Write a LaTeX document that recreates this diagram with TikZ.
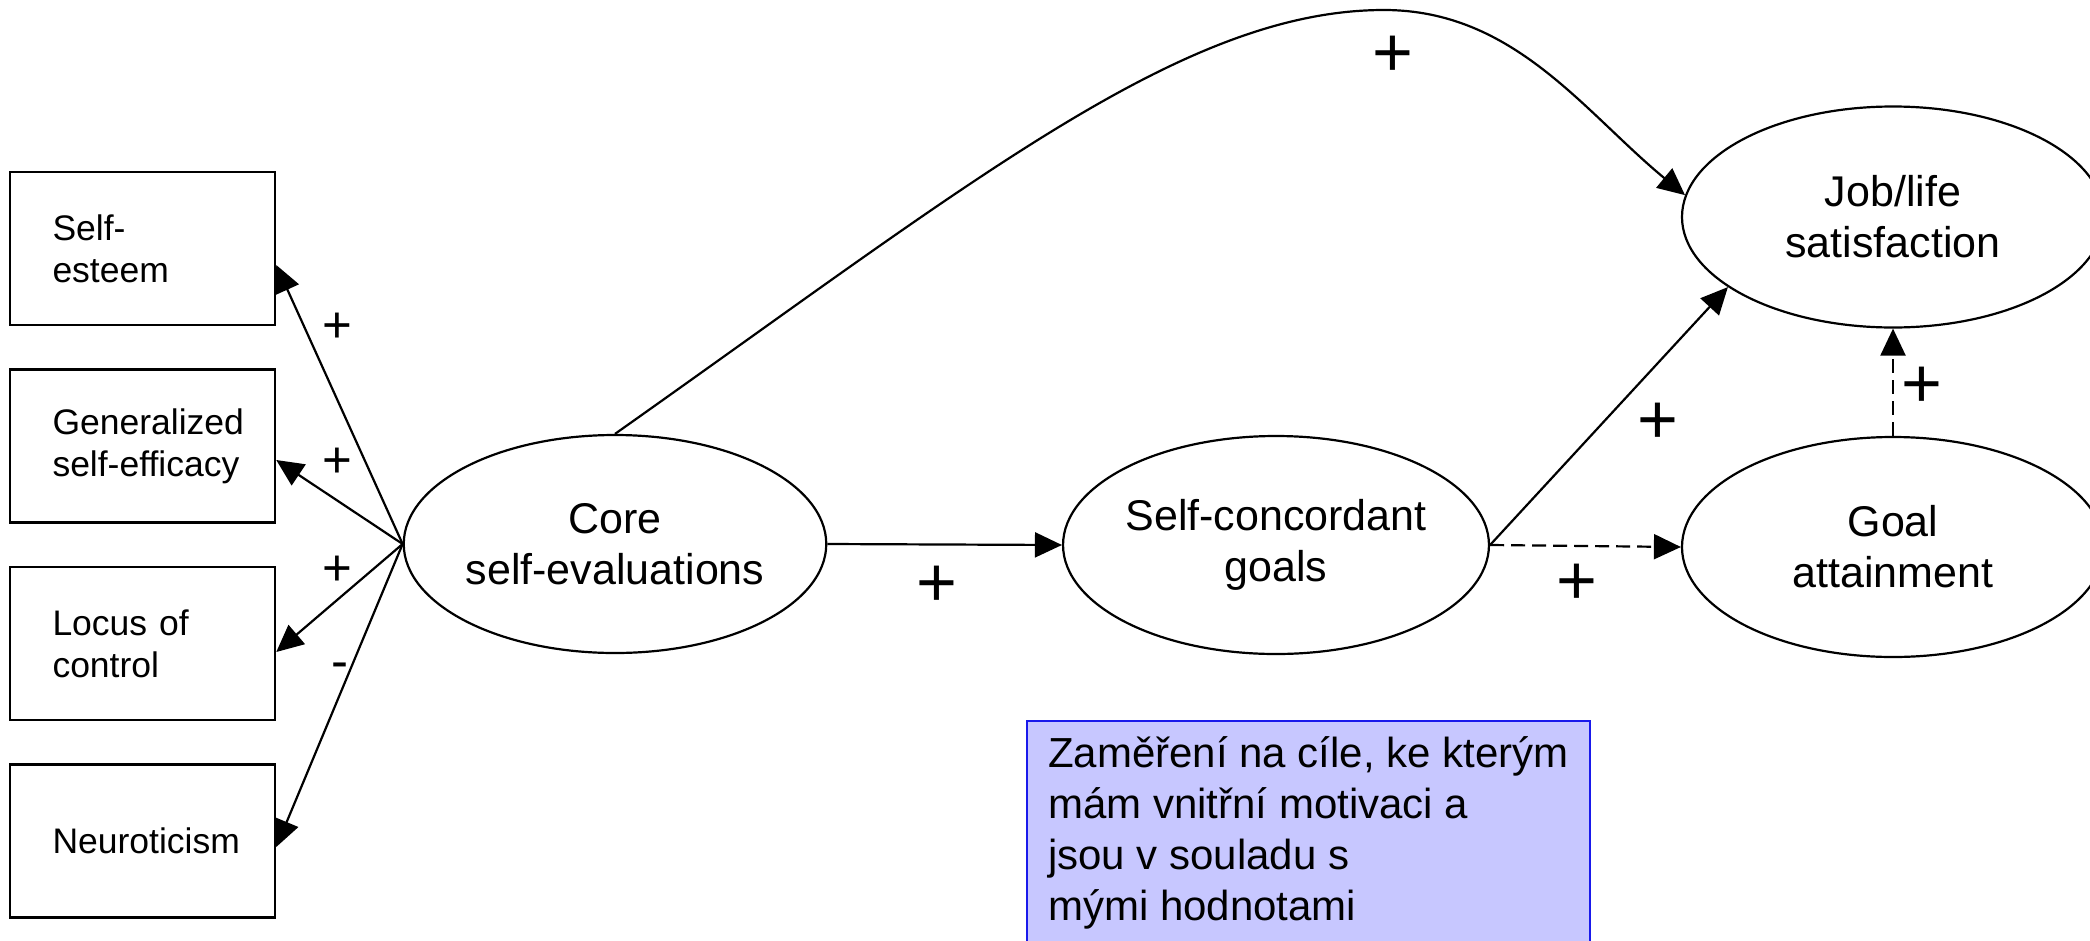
\documentclass[tikz,border=0pt]{standalone}
\usepackage{fontspec}
\setmainfont{Liberation Sans}
\usetikzlibrary{arrows.meta,shapes.geometric}
\definecolor{notefill}{RGB}{199,199,255}
\definecolor{noteline}{RGB}{25,25,235}
\newcommand{\nohyph}{\hyphenpenalty=10000\relax\exhyphenpenalty=10000\relax}
\begin{document}
\begin{tikzpicture}[x=1pt,y=-1pt,
  boxnode/.style={draw, line width=2.5pt, rectangle, text width=180pt, inner xsep=42.5pt, inner ysep=0pt,
    minimum height=153pt, align=left,
    font=\fontsize{35.5}{42}\selectfont\nohyph},
  ellnode/.style={draw, ellipse, line width=2.2pt, inner sep=0pt, align=center,
    font=\fontsize{43}{51}\selectfont},
  bigplus/.style={inner sep=0pt, font=\fontsize{70}{70}\selectfont},
  smallplus/.style={inner sep=0pt, font=\fontsize{51}{51}\selectfont},
  arr/.style={line width=2.2pt, -{Triangle[length=27pt,width=25pt]}},
  dsh/.style={arr, dash pattern=on 14pt off 7pt},
  note/.style={draw=noteline, fill=notefill, line width=2pt, align=left, inner xsep=0pt,
    inner ysep=15.5pt, minimum width=563pt, font=\fontsize{42}{51}\selectfont}
]
\useasboundingbox (0,0) rectangle (2090,940);
\clip (0,0) rectangle (2090,940);

% left boxes
\node[boxnode] (se)  at (142.5,248.5) {Self-\\esteem};
\node[boxnode] (gse) at (142.5,446)   {Generalized\\self-efficacy};
\node[boxnode] (loc) at (142.5,643.5) {Locus of\\control};
\node[boxnode] (neu) at (142.5,841)   {Neuroticism};

% ellipses
\node[ellnode, minimum width=420pt, minimum height=218pt] (core) at (615,544) {Core\\self-evaluations};
\node[ellnode, minimum width=418pt, minimum height=218pt] (sc) at (1276,545) {Self-concordant\\goals};
\node[ellnode, minimum width=422pt, minimum height=221pt] (js) at (1893,217) {Job/life\\satisfaction};
\node[ellnode, minimum width=422pt, minimum height=220pt] (ga) at (1893,547) {Goal\\attainment};

% star connectors
\draw[arr] (core.west) -- ([yshift=-16.5pt]se.east);
\draw[arr] (core.west) -- ([yshift=-14pt]gse.east);
\draw[arr] (core.west) -- ([yshift=-8.5pt]loc.east);
\draw[arr] (core.west) -- ([yshift=-6pt]neu.east);
\node[smallplus] (p1) at (337.5,328) {+};
\node[smallplus] (p2) at (337.5,463) {+};
\node[smallplus] (p3) at (337.5,571) {+};
\node[smallplus] (m4) at (340,671) {-};

% main paths
\draw[arr] (core.east) -- (sc.west);
\node[bigplus] (p5) at (937,586) {+};
\draw[dsh] (sc.east) -- (ga.west);
\node[bigplus] (p6) at (1577,584) {+};
\draw[arr] (sc.east) -- (js.203);
\node[bigplus] (p7) at (1658,423) {+};
\draw[dsh] (ga.north) -- (js.south);
\node[bigplus] (p8) at (1922,387) {+};

% top curve
\coordinate (apex) at (1384,10);
\draw[arr] (core.north) .. controls (976,179) and (1184,10) .. (apex)
  .. controls (1514,10) and (1584,112) .. (js.174);
\node[bigplus] (p9) at (1393,56) {+};

% note box
\node[note, anchor=north west] (nt) at (1026,720)
  {Zaměření na cíle, ke kterým\\mám vnitřní motivaci a\\jsou v souladu s\\mými hodnotami};
\end{tikzpicture}
\end{document}
